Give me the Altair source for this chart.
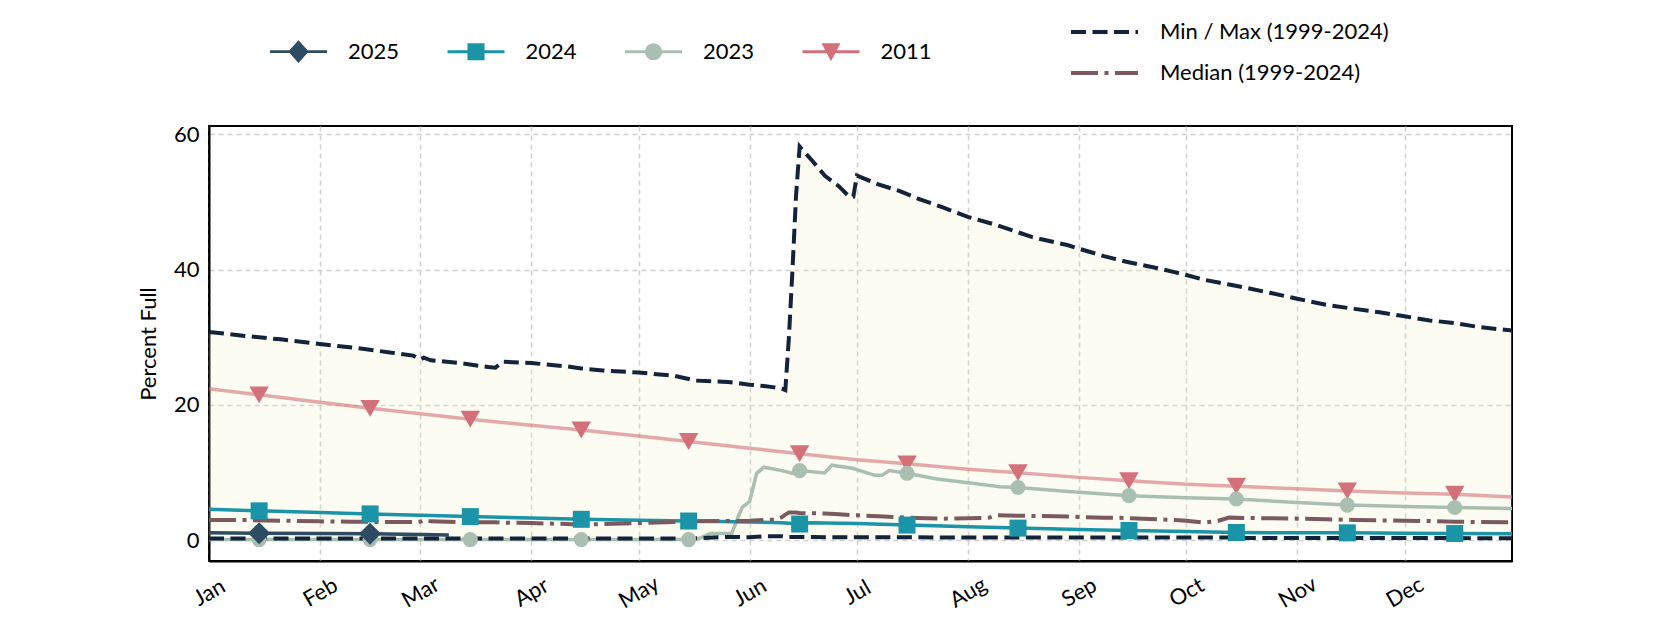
import datetime as dt
import calendar
import altair as alt
import pandas as pd

# ---------------- data (day-of-year: 0 = Jan 1) ----------------
STAT_DAY = [0, 10, 20, 31, 40, 50, 57, 59, 60, 62, 70, 78, 80, 82, 90, 100, 104, 110, 120, 130,
            136, 145, 151, 155, 158, 160, 161, 162, 163, 164, 165, 167, 169, 172, 176, 179, 180,
            181, 187, 193, 198, 205, 212, 218, 220, 230, 240, 243, 250, 256, 265, 270, 273, 278,
            282, 285, 290, 297, 304, 312, 320, 327, 334, 341, 348, 355, 364]
MAX_VAL = [30.8, 30.2, 29.7, 29.0, 28.5, 27.8, 27.3, 26.7, 27.0, 26.6, 26.2, 25.6, 25.5, 26.4,
           26.2, 25.7, 25.4, 25.1, 24.8, 24.3, 23.6, 23.4, 23.0, 22.8, 22.6, 22.4, 22.2, 30.0,
           40.0, 51.0, 58.2, 57.0, 55.8, 53.9, 52.3, 50.7, 50.8, 53.9, 52.6, 51.6, 50.5, 49.2,
           47.8, 46.9, 46.6, 44.8, 43.6, 43.1, 42.0, 41.2, 40.2, 39.6, 39.2, 38.5, 38.1, 37.8,
           37.3, 36.5, 35.7, 34.8, 34.2, 33.7, 33.1, 32.5, 32.1, 31.5, 31.0]
MIN_VAL = [0.25, 0.25, 0.25, 0.25, 0.25, 0.25, 0.25, 0.25, 0.25, 0.25, 0.25, 0.25, 0.25, 0.25,
           0.25, 0.25, 0.25, 0.25, 0.25, 0.25, 0.3, 0.5, 0.45, 0.6, 0.6, 0.6, 0.5, 0.5, 0.5,
           0.5, 0.5, 0.5, 0.5, 0.45, 0.45, 0.45, 0.45, 0.45, 0.45, 0.45, 0.45, 0.4, 0.4, 0.4,
           0.4, 0.4, 0.4, 0.4, 0.4, 0.4, 0.4, 0.4, 0.4, 0.4, 0.4, 0.4, 0.35, 0.35, 0.35, 0.35,
           0.35, 0.35, 0.35, 0.35, 0.35, 0.3, 0.3]
MED_VAL = [3.0, 3.0, 2.9, 2.8, 2.75, 2.7, 2.7, 2.75, 3.0, 2.8, 2.7, 2.65, 2.65, 2.6, 2.55, 2.4,
           2.3, 2.4, 2.55, 2.7, 2.8, 2.85, 2.9, 3.0, 3.05, 3.4, 3.8, 4.1, 4.1, 4.1, 4.05, 4.0,
           4.0, 3.95, 3.85, 3.75, 3.7, 3.7, 3.55, 3.4, 3.3, 3.2, 3.25, 3.35, 3.7, 3.6, 3.5,
           3.45, 3.35, 3.3, 3.1, 3.0, 2.9, 2.6, 2.9, 3.35, 3.3, 3.25, 3.2, 3.1, 3.0, 2.95, 2.9,
           2.85, 2.75, 2.7, 2.65]

Y2025_DAY = [0, 14, 31, 45, 59, 67]
Y2025_VAL = [1.1, 1.05, 1.0, 0.95, 0.85, 0.8]
Y2024_DAY = [0, 14, 31, 45, 59, 73, 90, 104, 120, 134, 151, 160, 165, 168, 181, 195, 205, 212,
             226, 243, 257, 273, 287, 304, 318, 334, 348, 364]
Y2024_VAL = [4.6, 4.35, 4.1, 3.9, 3.7, 3.5, 3.3, 3.1, 2.95, 2.85, 2.7, 2.6, 2.4, 2.6, 2.5, 2.25,
             2.1, 2.0, 1.8, 1.6, 1.45, 1.3, 1.15, 1.1, 1.1, 1.05, 1.0, 0.95]
Y2023_DAY = [0, 14, 45, 73, 104, 134, 137, 140, 146, 148, 149, 151, 153, 155, 160, 163, 165, 172,
             174, 180, 186, 188, 190, 195, 203, 212, 221, 226, 240, 257, 273, 287, 304, 318,
             334, 348, 364]
Y2023_VAL = [0.1, 0.1, 0.1, 0.1, 0.1, 0.1, 0.3, 1.0, 1.0, 3.7, 4.9, 5.7, 9.9, 10.8, 10.3, 9.9,
             10.3, 9.95, 11.1, 10.6, 9.6, 9.6, 10.3, 9.9, 9.1, 8.5, 7.9, 7.8, 7.2, 6.6, 6.3,
             6.1, 5.6, 5.2, 5.0, 4.85, 4.7]
Y2011_DAY = [0, 14, 31, 45, 59, 73, 90, 104, 120, 134, 151, 165, 181, 195, 212, 226, 243, 257,
             273, 287, 304, 318, 334, 348, 364]
Y2011_VAL = [22.4, 21.5, 20.4, 19.5, 18.7, 17.9, 17.0, 16.3, 15.4, 14.6, 13.6, 12.8, 11.9, 11.3,
             10.5, 10.0, 9.3, 8.8, 8.3, 8.0, 7.6, 7.3, 7.0, 6.8, 6.4]

MARKER_DAYS = [14, 45, 73, 104, 134, 165, 195, 226, 257, 287, 318, 348]
YEARS = ["2025", "2024", "2023", "2011"]
YEAR_COLORS = ["#2d4b62", "#1a94a6", "#a9bfb2", "#d4707a"]
YEAR_SHAPES = ["diamond", "square", "circle", "triangle-down"]
YEAR_SIZES = [484, 289, 227, 380]
STATS = ["Min / Max (1999-2024)", "Median (1999-2024)"]
STAT_COLORS = ["#13233a", "#7a5a5f"]
Y_TICKS = [0, 20, 40, 60]
FONT = "Lato"
FS = 22

def iso(d):
    return (dt.date(2001, 1, 1) + dt.timedelta(days=d)).isoformat()

def ms(y, m, d):
    return calendar.timegm(dt.date(y, m, d).timetuple()) * 1000

MONTH_TICKS = [ms(2001, m, 1) for m in range(1, 13)]
X_DOMAIN = [ms(2001, 1, 1), ms(2001, 12, 31)]
Y_DOMAIN = [-3.06, 61.23]

stats_wide = pd.DataFrame({"date": [iso(d) for d in STAT_DAY], "vmin": MIN_VAL, "vmax": MAX_VAL})
rows = []
for d, lo, hi, md in zip(STAT_DAY, MIN_VAL, MAX_VAL, MED_VAL):
    rows.append({"date": iso(d), "value": hi, "stat": STATS[0], "series": "max"})
    rows.append({"date": iso(d), "value": lo, "stat": STATS[0], "series": "min"})
    rows.append({"date": iso(d), "value": md, "stat": STATS[1], "series": "median"})
stats_long = pd.DataFrame(rows)

yrows = []
for yr, days, vals in [("2011", Y2011_DAY, Y2011_VAL), ("2023", Y2023_DAY, Y2023_VAL),
                       ("2024", Y2024_DAY, Y2024_VAL), ("2025", Y2025_DAY, Y2025_VAL)]:
    for d, v in zip(days, vals):
        yrows.append({"date": iso(d), "value": v, "year": yr, "marker": d in MARKER_DAYS})
years_df = pd.DataFrame(yrows)

# ---------------- encodings ----------------
x_enc = alt.X(
    "date:T",
    scale=alt.Scale(type="utc", domain=X_DOMAIN, nice=False),
    axis=alt.Axis(values=MONTH_TICKS, labelExpr="utcFormat(datum.value, '%b')", labelAngle=-30,
                  labelAlign="center", labelBaseline="middle", labelPadding=31, ticks=False,
                  tickSize=0, domain=True, domainColor="black", domainWidth=2, title=None,
                  labelFlush=False, labelOverlap=False),
)
y_enc = alt.Y(
    "value:Q",
    scale=alt.Scale(domain=Y_DOMAIN, nice=False, zero=False),
    axis=alt.Axis(values=Y_TICKS, title="Percent Full", ticks=False, tickSize=0, domain=True,
                  domainColor="black", domainWidth=2, labelPadding=10, titlePadding=13),
)
# the line/marker colour scale uses the reversed domain order so its (disabled) legend is
# not merged with the year legend below
year_color = alt.Color("year:N",
                       scale=alt.Scale(domain=YEARS[::-1], range=YEAR_COLORS[::-1]),
                       legend=None)

# combined line + marker legend symbols (custom paths)
LINE = "M-1,-0.05H1V0.05H-1Z"
LEGEND_PATHS = [
    LINE + "M0,-0.4L0.36,0L0,0.4L-0.36,0Z",
    LINE + "M-0.3,-0.3H0.3V0.3H-0.3Z",
    LINE + "M-0.3,0A0.3,0.3,0,1,1,0.3,0A0.3,0.3,0,1,1,-0.3,0Z",
    LINE + "M-0.333,-0.3H0.333L0,0.333Z",
]

leg_years = alt.Legend(title=None, orient="none", legendX=61, legendY=-103,
                       direction="horizontal", symbolSize=3249, symbolStrokeWidth=0,
                       labelOffset=21, columnPadding=47.5, labelFontSize=FS, labelFont=FONT,
                       labelColor="black", padding=0, symbolOpacity=1, labelLimit=500)
leg_stats = alt.Legend(title=None, orient="none", legendX=880, legendY=-109.5,
                       direction="vertical", symbolType="M-2.5,0H2.5", symbolSize=718,
                       symbolStrokeWidth=4, labelOffset=40, rowPadding=14, labelFontSize=FS,
                       labelFont=FONT, labelColor="black", padding=0, labelLimit=500)

area = alt.Chart(stats_wide).mark_area(color="#f0f0be", opacity=0.2).encode(
    x=x_enc, y=alt.Y("vmax:Q", scale=alt.Scale(domain=Y_DOMAIN, nice=False, zero=False)),
    y2="vmin:Q")

year_lines = alt.Chart(years_df).mark_line(strokeWidth=3.5).encode(
    x=x_enc, y=y_enc, color=year_color,
    opacity=alt.condition("datum.year == '2011'", alt.value(0.6), alt.value(1.0)),
)

stat_lines = alt.Chart(stats_long).mark_line(strokeWidth=4).encode(
    x=x_enc, y=y_enc,
    stroke=alt.Stroke("stat:N", scale=alt.Scale(domain=STATS, range=STAT_COLORS), legend=leg_stats),
    strokeDash=alt.StrokeDash("stat:N", scale=alt.Scale(domain=STATS, range=[[15, 6.5], [27, 6.5, 4, 6.5]]),
                              legend=leg_stats),
    detail="series:N",
)

# one marker layer per year (drawn 2011 -> 2025 so 2025 sits on top)
marker_layers = []
for yr, shp, sz in reversed(list(zip(YEARS, YEAR_SHAPES, YEAR_SIZES))):
    marker_layers.append(
        alt.Chart(years_df).transform_filter(f"datum.marker && datum.year == '{yr}'")
        .mark_point(filled=True, opacity=1, strokeWidth=0, shape=shp, size=sz)
        .encode(x=x_enc, y=y_enc, color=year_color)
    )

# invisible layer that only carries the year legend (line + marker symbols)
legend_layer = alt.Chart(years_df).transform_filter("datum.marker").mark_point(
    filled=True, opacity=0, strokeWidth=0).encode(
    x=x_enc, y=y_enc,
    fill=alt.Fill("year:N", scale=alt.Scale(domain=YEARS, range=YEAR_COLORS), legend=leg_years),
    shape=alt.Shape("year:N", scale=alt.Scale(domain=YEARS, range=LEGEND_PATHS), legend=leg_years),
)

chart = (
    alt.layer(area, year_lines, stat_lines, *marker_layers, legend_layer)
    .properties(width=1303, height=435,
                autosize=alt.AutoSizeParams(type="none"),
                padding={"left": 201, "top": 118, "right": 160, "bottom": 60})
    .configure_view(stroke="black", strokeWidth=2)
    .configure_axis(labelFont=FONT, titleFont=FONT, labelFontSize=FS, titleFontSize=FS,
                    labelColor="black", titleColor="black", titleFontWeight="normal",
                    grid=True, gridColor="#d0d0d0", gridDash=[5, 4], gridWidth=1.5)
)

chart.save("out.html", embed_options={"renderer": "svg", "actions": False})
